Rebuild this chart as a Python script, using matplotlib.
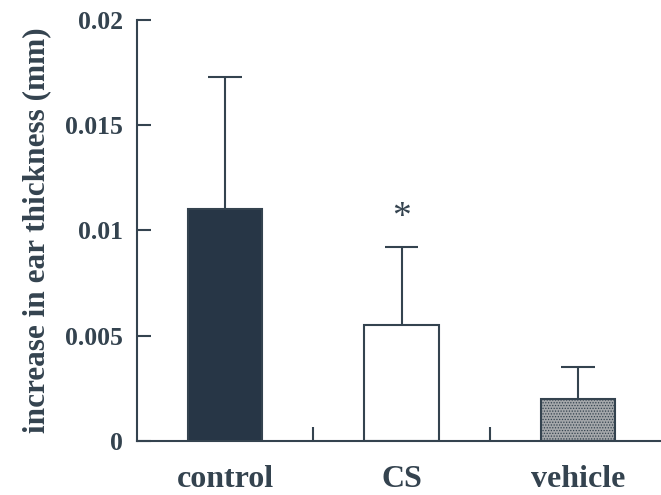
import matplotlib
matplotlib.use("Agg")
import matplotlib.pyplot as plt
import numpy as np

groups = ["control", "CS", "vehicle"]
means = [0.0110, 0.0055, 0.0020]
errors = [0.0063, 0.0037, 0.0015]
signif = ["", "*", ""]

ink = "#34434f"
plt.rcParams["font.family"] = ["Liberation Serif", "DejaVu Serif"]
plt.rcParams["font.weight"] = "bold"
plt.rcParams["hatch.color"] = "#3a3f45"
plt.rcParams["hatch.linewidth"] = 0.6

fig = plt.figure(figsize=(6.61, 4.95), dpi=100)
ax = fig.add_axes([0.207, 0.109, 0.793, 0.851])

x = np.arange(len(groups))
width = 0.42
faces = ["#273646", "white", "#a4a7aa"]
hatches = [None, None, "......"]
for xi, m, fc, h in zip(x, means, faces, hatches):
    ax.bar(xi, m, width=width, color=fc, edgecolor=ink, linewidth=1.5, hatch=h, zorder=2)

tops = np.array(means) + np.array(errors)
ax.vlines(x, means, tops, color=ink, linewidth=1.5, zorder=3)
ax.hlines(tops, x - 0.095, x + 0.095, color=ink, linewidth=1.5, zorder=3)

for xi, top, s in zip(x, tops, signif):
    if s:
        ax.text(xi, top + 0.0014, s, ha="center", va="center", fontsize=27,
                fontweight="normal", color=ink)

ax.set_xlim(-0.5, 2.47)
ax.set_ylim(0, 0.02)
ax.set_yticks([0, 0.005, 0.01, 0.015, 0.02])
ax.set_yticklabels(["0", "0.005", "0.01", "0.015", "0.02"])
ax.set_xticks(x)
ax.set_xticklabels(groups)
ax.set_xticks([0.5, 1.5], minor=True)

for side in ["top", "right"]:
    ax.spines[side].set_visible(False)
for side in ["left", "bottom"]:
    ax.spines[side].set_color(ink)
    ax.spines[side].set_linewidth(1.5)

ax.tick_params(axis="y", direction="in", length=10, width=1.5, color=ink,
               labelsize=18.5, labelcolor=ink, pad=10)
ax.tick_params(axis="x", which="major", length=0, labelsize=23, labelcolor=ink, pad=17)
ax.tick_params(axis="x", which="minor", direction="in", length=10, width=1.5, color=ink)

ax.set_ylabel("increase in ear thickness (mm)", fontsize=22.5, fontweight="bold",
              color=ink, labelpad=10)

fig.savefig("out.png", dpi=100)
